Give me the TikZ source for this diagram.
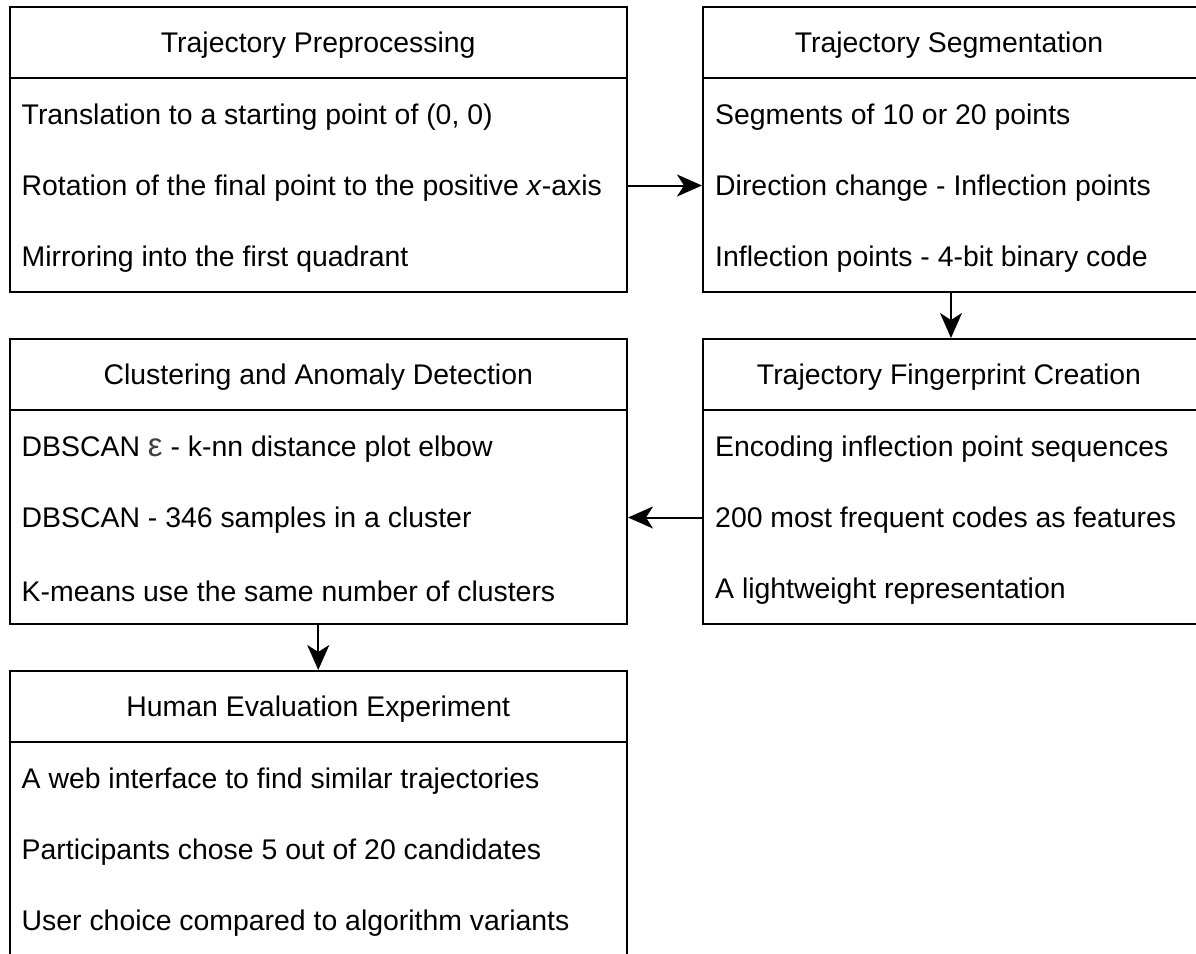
\documentclass[tikz,border=0pt]{standalone}
\usepackage{fontspec}
\setmainfont{Liberation Sans}
\usetikzlibrary{arrows.meta,calc}
\definecolor{epsgray}{HTML}{404040}
\begin{document}
\begin{tikzpicture}[x=1pt,y=-1pt,
  listbox/.style={draw=black,line width=2pt,rectangle,inner sep=0pt,minimum height=285pt},
  leftbox/.style={listbox,minimum width=617.5pt},
  rightbox/.style={listbox,minimum width=494.5pt},
  divider/.style={draw=black,line width=2pt},
  title/.style={inner sep=0pt,font=\fontsize{28.4}{32}\selectfont},
  item/.style={inner sep=0pt,anchor=west,font=\fontsize{28.4}{32}\selectfont},
  flow/.style={draw=black,line width=2pt,-{Stealth[length=25pt,width=22pt,inset=7pt]}}
]
\useasboundingbox (0,0) rectangle (1196,953);
% boxes
\node[leftbox] (pre) at (318.25,149.5) {};
\node[rightbox] (seg) at (950.25,149.5) {};
\node[leftbox] (clu) at (318.25,481.5) {};
\node[rightbox] (fin) at (950.25,481.5) {};
\node[leftbox] (hum) at (318.25,813.5) {};
% dividers
\foreach \b in {pre,seg,clu,fin,hum}{
  \draw[divider] ($(\b.north west)+(0,72)$) -- ($(\b.north east)+(0,72)$);
}
% Preprocessing
\node[title] at ($(pre.north)+(0,39)$) {Trajectory Preprocessing};
\node[item] (pre1) at ($(pre.north west)+(13,111)$) {Translation to a starting point of (0, 0)};
\node[item] (pre2) at ($(pre.north west)+(13,182)$) {Rotation of the final point to the positive \textit{x}-axis};
\node[item] (pre3) at ($(pre.north west)+(13,253)$) {Mirroring into the first quadrant};
% Segmentation
\node[title] at ($(seg.north west)+(247,39)$) {Trajectory Segmentation};
\node[item] (seg1) at ($(seg.north west)+(13,111)$) {Segments of 10 or 20 points};
\node[item] (seg2) at ($(seg.north west)+(13,182)$) {Direction change - Inflection points};
\node[item] (seg3) at ($(seg.north west)+(13,253)$) {Inflection points - 4-bit binary code};
% Clustering
\node[title] at ($(clu.north)+(0,39)$) {Clustering and Anomaly Detection};
\node[item] (clu1) at ($(clu.north west)+(13,111)$) {DBSCAN {\color{epsgray}\fontsize{33}{33}\selectfont ε} - k-nn distance plot elbow};
\node[item] (clu2) at ($(clu.north west)+(13,182)$) {DBSCAN - 346 samples in a cluster};
\node[item] (clu3) at ($(clu.north west)+(13,253)$) {K-means use the same number of clusters};
% Fingerprint
\node[title] at ($(fin.north west)+(247,39)$) {Trajectory Fingerprint Creation};
\node[item] (fin1) at ($(fin.north west)+(13,111)$) {Encoding inflection point sequences};
\node[item] (fin2) at ($(fin.north west)+(13,182)$) {200 most frequent codes as features};
\node[item] (fin3) at ($(fin.north west)+(13,253)$) {A lightweight representation};
% Human evaluation
\node[title] at ($(hum.north)+(0,39)$) {Human Evaluation Experiment};
\node[item] (hum1) at ($(hum.north west)+(13,111)$) {A web interface to find similar trajectories};
\node[item] (hum2) at ($(hum.north west)+(13,182)$) {Participants chose 5 out of 20 candidates};
\node[item] (hum3) at ($(hum.north west)+(13,253)$) {User choice compared to algorithm variants};
% connectors
\draw[flow] ($(pre.east)+(0,36)$) -- ($(seg.west)+(0,36)$);
\draw[flow] ($(seg.south)+(0.75,0)$) -- ($(fin.north)+(0.75,0)$);
\draw[flow] ($(fin.west)+(0,36)$) -- ($(clu.east)+(0,36)$);
\draw[flow] (clu.south) -- (hum.north);
\end{tikzpicture}
\end{document}
